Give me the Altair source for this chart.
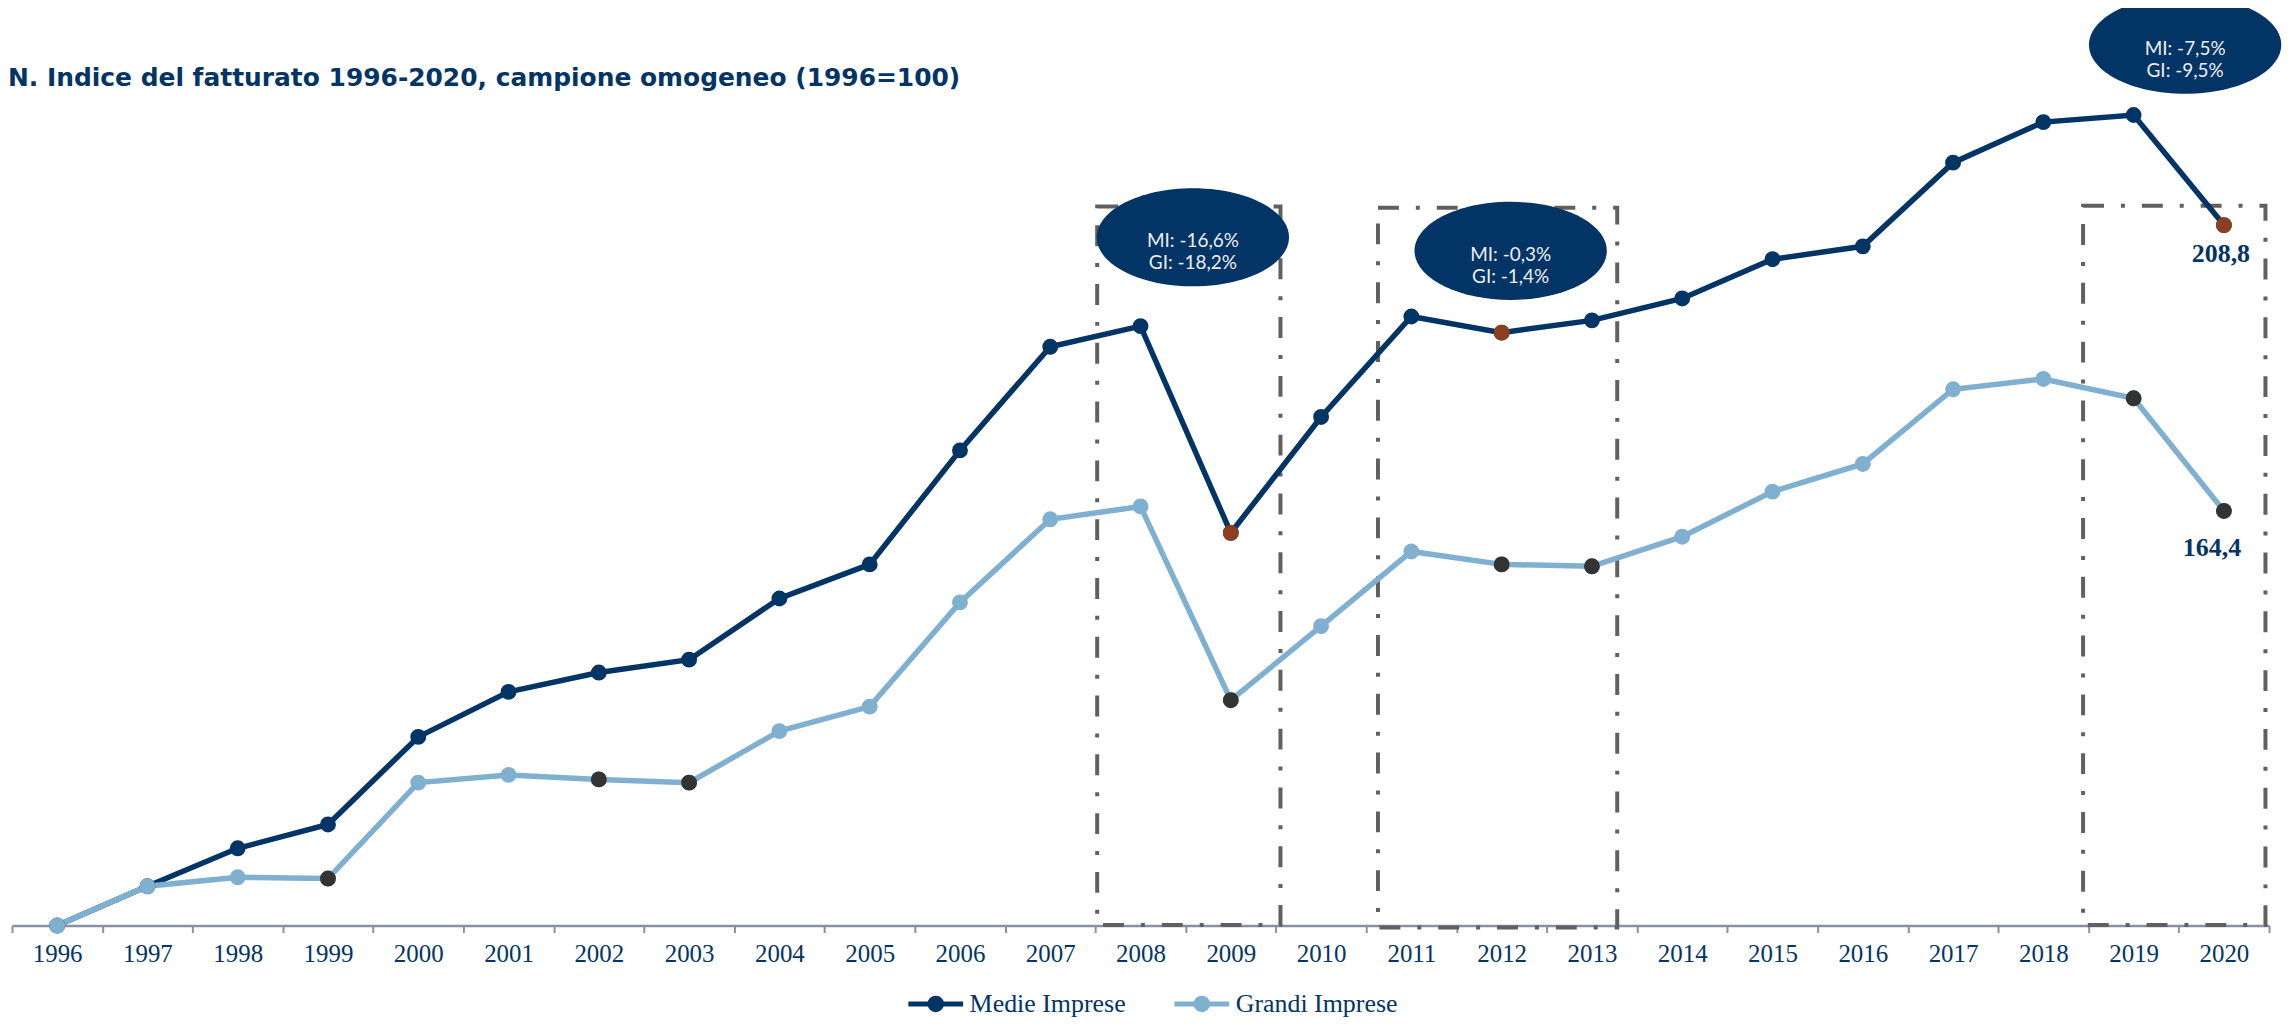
import altair as alt
import pandas as pd

# ---------------- data ----------------
years = list(range(1996, 2021))
medie = [100.0, 106.1, 112.0, 115.7, 129.3, 136.3, 139.3, 141.3, 150.8, 156.1,
         173.8, 189.9, 193.1, 161.0, 179.0, 194.6, 192.1, 194.0, 197.4, 203.5,
         205.5, 218.5, 224.8, 225.9, 208.8]
grandi = [100.0, 106.1, 107.5, 107.3, 122.2, 123.4, 122.7, 122.2, 130.2, 134.0,
          150.2, 163.1, 165.1, 135.0, 146.5, 158.1, 156.1, 155.8, 160.4, 167.4,
          171.7, 183.3, 184.9, 181.9, 164.4]
series_names = ["Medie Imprese", "Grandi Imprese"]
medie_highlight = [2009, 2012, 2020]
grandi_highlight = [1999, 2002, 2003, 2009, 2012, 2013, 2019, 2020]
end_labels = ["208,8", "164,4"]

# annotation boxes (year span, index span)
box_start = [2007.52, 2010.63, 2018.44]
box_end = [2009.55, 2013.28, 2020.46]
box_low = [100.1, 99.7, 100.1]
box_high = [211.7, 211.5, 211.8]

# bubbles (centre year, centre index, text)
bubble_year = [2008.58, 2012.1, 2019.57]
bubble_value = [206.9, 204.8, 236.8]
bubble_text = ["MI: -16,6%\nGI: -18,2%", "MI: -0,3%\nGI: -1,4%", "MI: -7,5%\nGI: -9,5%"]

title_text = "N. Indice del fatturato 1996-2020, campione omogeneo (1996=100)"

# ---------------- tables ----------------
year_labels = [str(y) for y in years]
rows = []
for name, vals, hl in [(series_names[0], medie, medie_highlight),
                       (series_names[1], grandi, grandi_highlight)]:
    for y, v in zip(years, vals):
        rows.append({"year": str(y), "value": v, "series": name, "hl": y in hl})
df = pd.DataFrame(rows)

end_mi = pd.DataFrame({"year": [year_labels[-1]], "value": [medie[-1]], "label": [end_labels[0]]})
end_gi = pd.DataFrame({"year": [year_labels[-1]], "value": [grandi[-1]], "label": [end_labels[1]]})
box_df = pd.DataFrame({"x": box_start, "x2": box_end, "y": box_low, "y2": box_high})
bub_df = pd.DataFrame({"x": bubble_year, "y": bubble_value, "text": bubble_text})

# ---------------- styles ----------------
NAVY = "#023466"
LIGHT = "#7FB0CF"
BROWN = "#8C3F1E"
DARK = "#333333"
BOX = "#606060"

W, H = 2265, 904.5

y_scale = alt.Scale(domain=[100, 240], nice=False, zero=False)
y_enc = alt.Y("value:Q", scale=y_scale, axis=None)
x_band = alt.X(
    "year:O",
    sort=year_labels,
    scale=alt.Scale(domain=year_labels, paddingInner=0, paddingOuter=0),
    axis=alt.Axis(
        title=None, labelAngle=0, tickBand="extent",
        domainColor="#8A90A4", domainWidth=2.5,
        tickColor="#8A90A4", tickWidth=2, tickSize=7,
        labelFont="Liberation Serif", labelFontSize=25, labelColor=NAVY,
        labelPadding=9, grid=False,
    ),
)
x_q = alt.Scale(domain=[1995.5, 2020.5], nice=False, zero=False)

legend_symbol = (
    "M-1,0 L1,0 "
    "M-0.21,0 A0.21,0.21 0 1,1 0.21,0 A0.21,0.21 0 1,1 -0.21,0 "
    "M-0.12,0 A0.12,0.12 0 1,1 0.12,0 A0.12,0.12 0 1,1 -0.12,0 "
    "M-0.03,0 A0.03,0.03 0 1,1 0.03,0 A0.03,0.03 0 1,1 -0.03,0"
)
color_scale = alt.Scale(domain=series_names, range=[NAVY, LIGHT])

ellipse_path = "M-1,0 A1,0.51 0 1,1 1,0 A1,0.51 0 1,1 -1,0 Z"

boxes = alt.Chart(box_df).mark_rect(
    fillOpacity=0, stroke=BOX, strokeWidth=4, strokeDash=[21, 17, 4, 17]
).encode(
    x=alt.X("x:Q", scale=x_q, axis=None),
    x2="x2:Q",
    y=alt.Y("y:Q", scale=y_scale, axis=None),
    y2="y2:Q",
)

lines = alt.Chart(df).mark_line(strokeWidth=5.5).encode(
    x=x_band,
    y=y_enc,
    color=alt.Color(
        "series:N", scale=color_scale,
        legend=alt.Legend(
            title=None, orient="none", direction="horizontal",
            legendX=897, legendY=953, padding=0,
            symbolType=legend_symbol, symbolSize=3025, symbolStrokeWidth=5,
            labelFont="Liberation Serif", labelFontSize=26, labelColor=NAVY,
            labelLimit=400, columnPadding=38, labelOffset=4, symbolOpacity=1,
        ),
    ),
    order=alt.Order("year:O"),
)

points = alt.Chart(df).mark_circle(size=254, opacity=1).encode(
    x=x_band,
    y=y_enc,
    color=alt.Color("series:N", scale=color_scale, legend=None),
)

hl_points = alt.Chart(df).transform_filter("datum.hl").mark_circle(size=254, opacity=1).encode(
    x=x_band,
    y=y_enc,
    color=alt.condition("datum.series === 'Medie Imprese'", alt.value(BROWN), alt.value(DARK)),
)

end_text_mi = alt.Chart(end_mi).mark_text(
    font="Liberation Serif", fontSize=26, fontWeight="bold", color=NAVY,
    baseline="middle", align="center", dy=29, dx=-3,
).encode(x=x_band, y=y_enc, text="label:N")

end_text_gi = alt.Chart(end_gi).mark_text(
    font="Liberation Serif", fontSize=26, fontWeight="bold", color=NAVY,
    baseline="middle", align="center", dy=37, dx=-12,
).encode(x=x_band, y=y_enc, text="label:N")

series_layer = alt.layer(lines, points, hl_points, end_text_mi, end_text_gi)

bubbles = alt.Chart(bub_df).mark_point(
    shape=ellipse_path, size=193 * 193, filled=True, fill=NAVY, opacity=1, strokeWidth=0
).encode(
    x=alt.X("x:Q", scale=x_q, axis=None),
    y=alt.Y("y:Q", scale=y_scale, axis=None),
)

bubble_text_layer = alt.Chart(bub_df).mark_text(
    font="Lato", fontSize=19, fontWeight="normal", color="#EEEEEE",
    lineBreak="\n", lineHeight=22, baseline="middle", align="center", dy=4,
).encode(
    x=alt.X("x:Q", scale=x_q, axis=None),
    y=alt.Y("y:Q", scale=y_scale, axis=None),
    text="text:N",
)

bubble_layer = alt.layer(bubbles, bubble_text_layer)

chart = alt.layer(
    boxes, series_layer, bubble_layer
).resolve_scale(x="independent").properties(
    width=W, height=H,
    background="white",
    title=alt.TitleParams(
        title_text, anchor="start", frame="group", font="DejaVu Sans", fontSize=25,
        fontWeight="bold", color=NAVY, dx=-4, dy=100,
    ),
    autosize=alt.AutoSizeParams(type="none"),
    padding={"left": 4, "top": 14.5, "right": 18, "bottom": 92},
).configure_view(stroke="transparent", strokeWidth=0)

chart.save("out.html", embed_options={"renderer": "svg", "actions": False})
